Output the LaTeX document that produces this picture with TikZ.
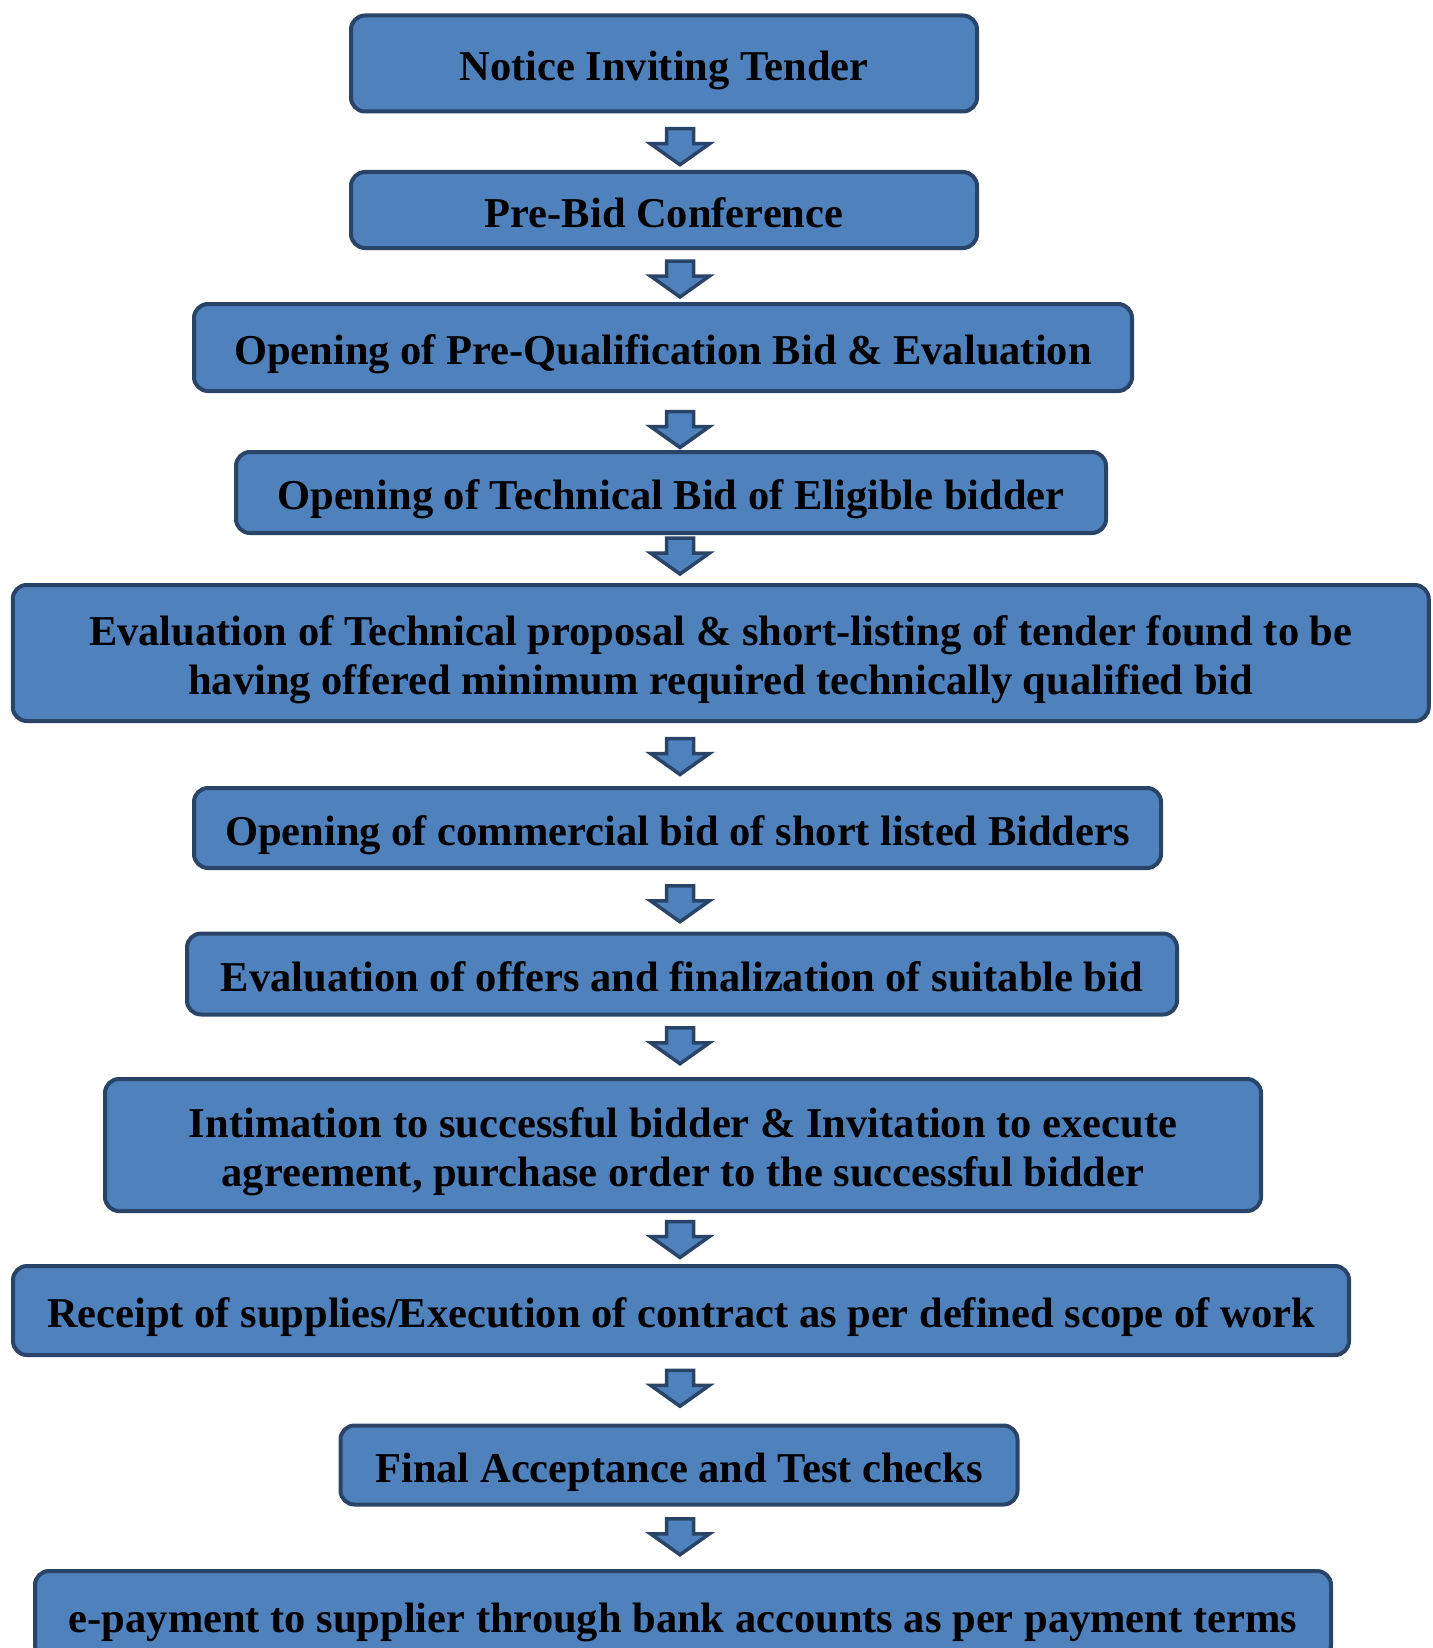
\documentclass[tikz,border=0pt]{standalone}
\usepackage{fontspec}
\setmainfont{Liberation Serif}
\usetikzlibrary{calc}
\definecolor{boxfill}{HTML}{4F81BD}
\definecolor{boxline}{HTML}{2A4468}

\begin{document}
\begin{tikzpicture}[x=1pt,y=-1pt]
    \tikzset{
      stepbox/.style={draw=boxline, line width=4pt, fill=boxfill, rounded corners=14pt,
        align=center, inner sep=0pt, text height=43pt, text depth=9pt,
        font=\fontsize{42.5}{49.5}\selectfont\bfseries},
      twolines/.style={text height=92.5pt},
      blockarrow/.style={draw=boxline, line width=3.5pt, fill=boxfill, line join=miter}
    }
    \useasboundingbox (0,0) rectangle (1432,1648);
    \node [stepbox, minimum width=626pt, minimum height=96pt] (n1) at (664,63.5) {Notice Inviting Tender};
    \node [stepbox, minimum width=626pt, minimum height=76pt] (n2) at (664,210) {Pre-Bid Conference};
    \node [stepbox, minimum width=938pt, minimum height=87pt] (n3) at (663,347.5) {Opening of Pre-Qualification Bid \& Evaluation};
    \node [stepbox, minimum width=870pt, minimum height=81pt] (n4) at (671,492.5) {Opening of Technical Bid of Eligible bidder};
    \node [stepbox, twolines, minimum width=1416pt, minimum height=136pt] (n5) at (720.75,653) {Evaluation of Technical proposal \& short-listing of tender found to be\\having offered minimum required technically qualified bid};
    \node [stepbox, minimum width=967pt, minimum height=80pt] (n6) at (677.5,828) {Opening of commercial bid of short listed Bidders};
    \node [stepbox, minimum width=990pt, minimum height=81pt] (n7) at (682,974) {Evaluation of offers and finalization of suitable bid};
    \node [stepbox, twolines, minimum width=1156pt, minimum height=132pt] (n8) at (683,1145) {Intimation to successful bidder \& Invitation to execute\\agreement, purchase order to the successful bidder};
    \node [stepbox, minimum width=1336pt, minimum height=89pt] (n9) at (681,1310.5) {Receipt of supplies/Execution of contract as per defined scope of work};
    \node [stepbox, minimum width=677pt, minimum height=79pt] (n10) at (679,1465) {Final Acceptance and Test checks};
    \node [stepbox, minimum width=1296pt, minimum height=88pt] (n11) at (683,1615) {e-payment to supplier through bank accounts as per payment terms};
    % block arrows between the steps (last value nudges the arrow down)
    \coordinate (axis) at (680,0);
    \foreach \a/\b/\s in {n1/n2/5,n2/n3/3,n3/n4/8,n4/n5/-3,n5/n6/2,n6/n7/3,n7/n8/-1,n8/n9/1,n9/n10/-2,n10/n11/-1}
      \draw [blockarrow] ($(axis |- \a.south)!0.5!(axis |- \b.north) + (0,\s)$) ++(-13.5,-18) -- ++(27,0) -- ++(0,15)
        -- ++(16,0) -- ++(-29.5,21) -- ++(-29.5,-21) -- ++(16,0) -- cycle;
\end{tikzpicture}
\end{document}
